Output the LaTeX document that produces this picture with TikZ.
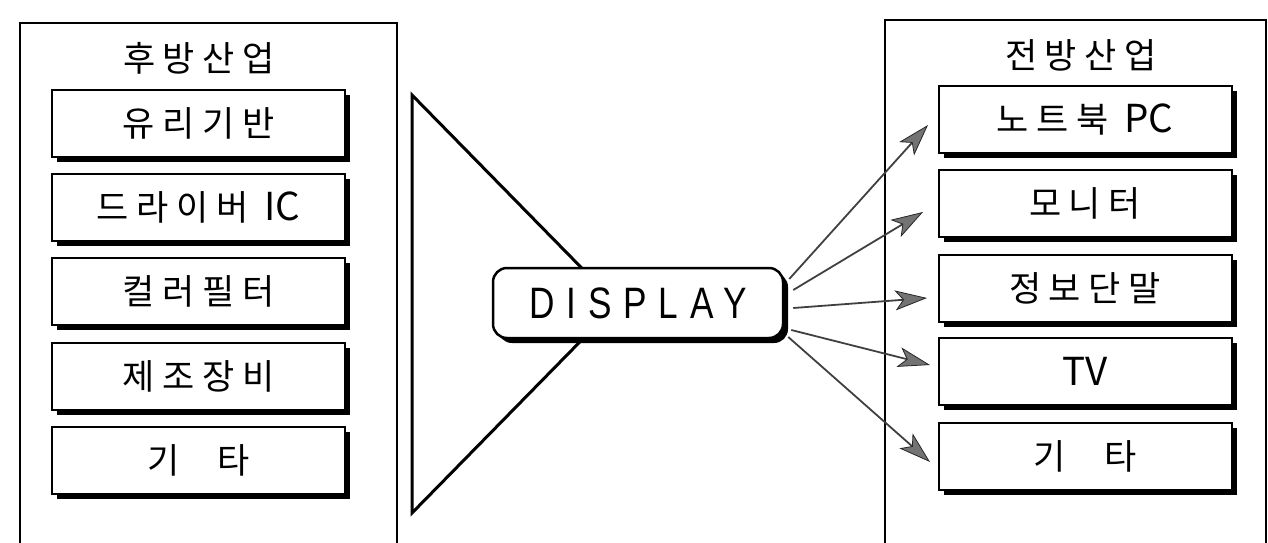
\documentclass[tikz,border=0pt]{standalone}
\usepackage{fontspec}
\usetikzlibrary{arrows.meta,calc,shadows}
\newfontfamily\kr{Noto Sans CJK KR}[LetterSpace=22]
\newfontfamily\krl{Noto Sans CJK KR}[Scale=1.1]
\newfontfamily\disp{Liberation Sans}[LetterSpace=27,FakeStretch=0.8]
\begin{document}
\begin{tikzpicture}[x=1pt,y=-1pt,
  panel/.style={line width=1.3pt},
  blackshadow/.style={drop shadow={shadow xshift=5pt,shadow yshift=-5pt,fill=black,opacity=1}},
  item/.style={draw,line width=2pt,fill=white,blackshadow,minimum width=293pt,minimum height=67pt,inner sep=0pt,font=\kr\fontsize{35}{42}\selectfont},
  title/.style={inner sep=0pt,font=\kr\fontsize{35}{42}\selectfont},
  dispbox/.style={draw,line width=2.5pt,fill=white,rounded corners=14pt,blackshadow,minimum width=290pt,minimum height=70pt,inner sep=0pt,font=\disp\fontsize{44}{50}\selectfont},
  flow/.style={draw=black!75,line width=1.8pt,-{Stealth[length=32pt,width=20pt,inset=8pt,line width=0.8pt,fill=black!55,color=black!85]}},
  tri/.style={line width=3pt,line join=miter}]
\useasboundingbox (0,0) rectangle (1268,543);
% panels
\draw[panel] (20,545) -- (20,23) -- (397,23) -- (397,545);
\draw[panel] (885,545) -- (885,20) -- (1266,20) -- (1266,545);
\node[title] (lt) at (199,58) {후방산업};
\node[title] (rt) at (1081,55) {전방산업};
% left items
\node[item] (l1) at (198.5,123) {유리기반};
\node[item] (l2) at (198.5,207) {드라이버 {\krl IC}};
\node[item] (l3) at (198.5,291) {컬러필터};
\node[item] (l4) at (198.5,376) {제조장비};
\node[item] (l5) at (198.5,460) {기\hspace{1.1em}타};
% right items
\node[item] (r1) at (1085,119.5) {노트북 {\krl PC}};
\node[item] (r2) at (1085,203.5) {모니터};
\node[item] (r3) at (1085,288) {정보단말};
\node[item] (r4) at (1085,371) {\krl TV};
\node[item] (r5) at (1085,456) {기\hspace{1.1em}타};
% funnel
\coordinate (ta) at (412,95);
\coordinate (tb) at (617,304);
\coordinate (tc) at (412,513);
\draw[tri] (ta) -- (tb) -- (tc) -- cycle;
\node[dispbox] (d) at (638,303) {DISPLAY};
% arrow tips
\coordinate (p1) at (928,125);
\coordinate (p2) at (923,212);
\coordinate (p3) at (927,298);
\coordinate (p4) at (930,365);
\coordinate (p5) at (930,462);
\draw[flow] ($(d.east)+(5,-24)$) -- (p1);
\draw[flow] ($(d.east)+(9,-13)$) -- (p2);
\draw[flow] ($(d.east)+(9,5)$) -- (p3);
\draw[flow] ($(d.east)+(7,27)$) -- (p4);
\draw[flow] ($(d.east)+(4,34)$) -- (p5);
\end{tikzpicture}
\end{document}
